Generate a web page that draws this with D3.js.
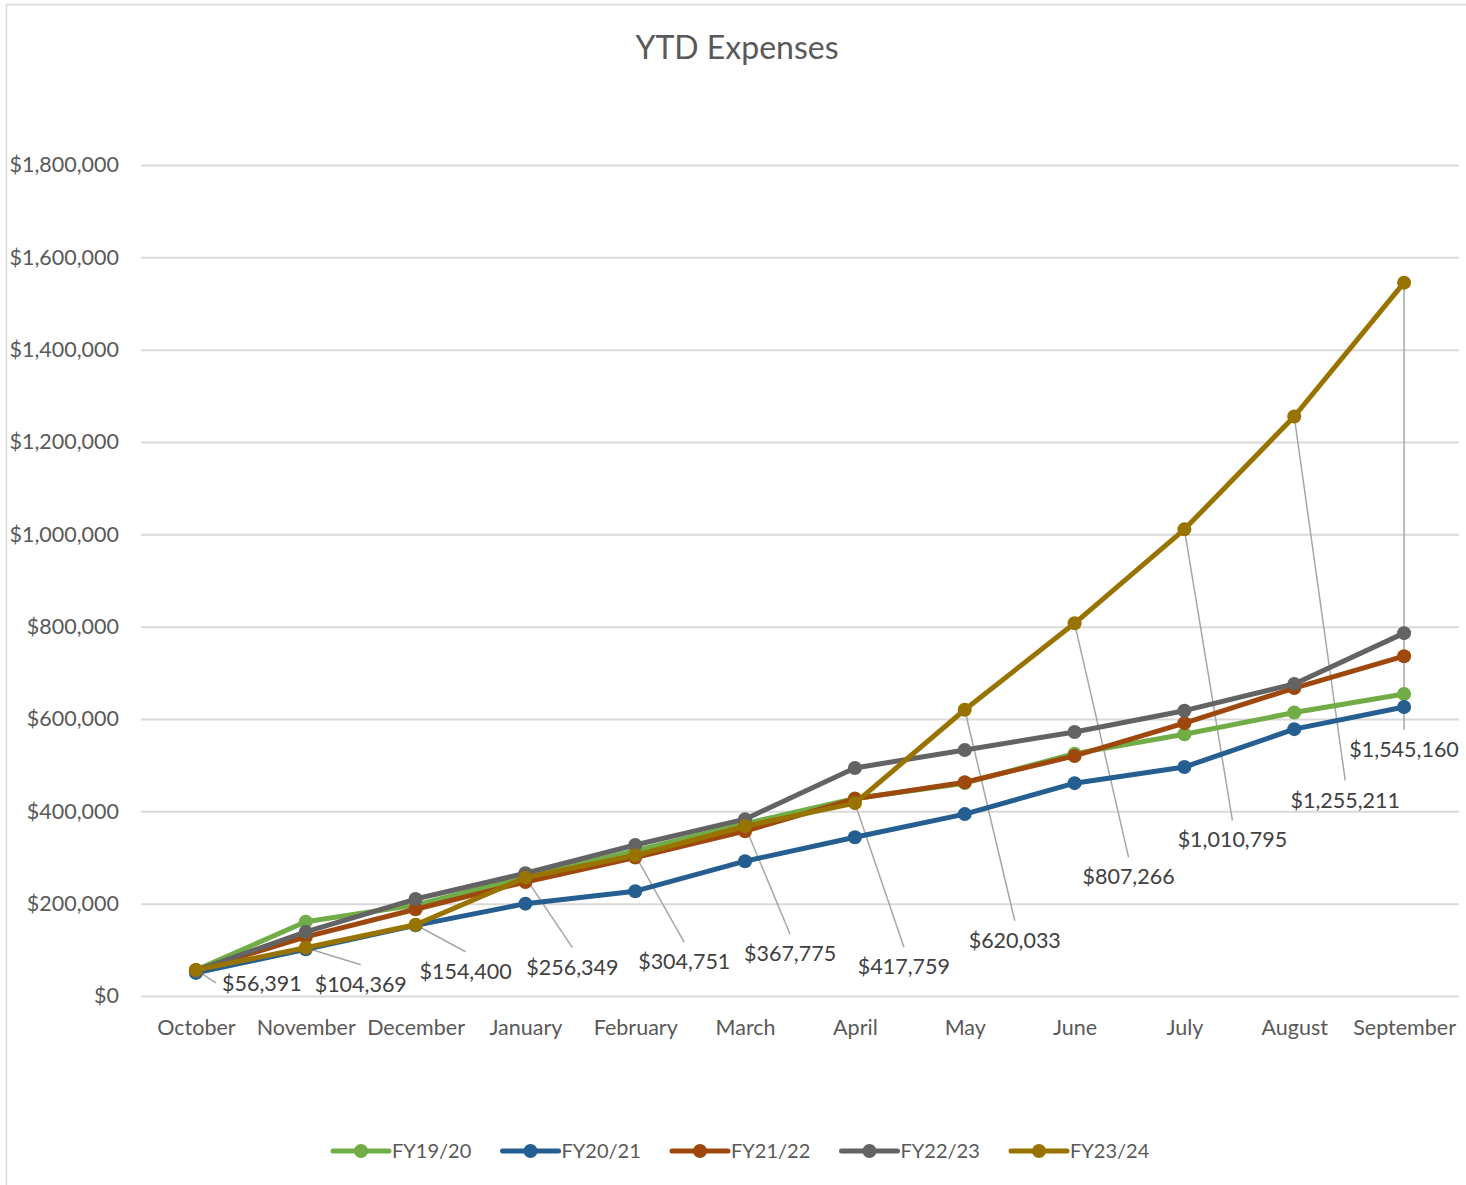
<!DOCTYPE html>
<html>
<head>
<meta charset="utf-8">
<script src="https://cdn.jsdelivr.net/npm/d3@7"></script>
<style>
  body { margin: 0; background: #fff; }
  svg { font-family: Lato, "Noto Sans", sans-serif; }
</style>
</head>
<body>
<div id="chart"></div>
<script>
  // data
  const months = ["October", "November", "December", "January", "February", "March",
    "April", "May", "June", "July", "August", "September"];
  const seriesNames = ["FY19/20", "FY20/21", "FY21/22", "FY22/23", "FY23/24"];
  const fy1920 = [56000, 161000, 197000, 258000, 315000, 373000, 428000, 461000, 525000, 567000, 614000, 654000];
  const fy2021 = [50000, 101000, 153000, 200000, 227000, 292000, 344000, 394000, 461000, 496000, 578000, 626000];
  const fy2122 = [56000, 128000, 188000, 247000, 300000, 357000, 427000, 463000, 520000, 591000, 667000, 736000];
  const fy2223 = [55000, 139000, 210000, 266000, 327000, 383000, 494000, 533000, 572000, 618000, 676000, 786000];
  const fy2324 = [56391, 104369, 154400, 256349, 304751, 367775, 417759, 620033, 807266, 1010795, 1255211, 1545160];
  const yTicks = [0, 200000, 400000, 600000, 800000, 1000000, 1200000, 1400000, 1600000, 1800000];

  const colors = ["#70AD47", "#255E91", "#9E480E", "#636363", "#997300"];
  // where Excel's dragged labels ended up, as pixel offsets from the point
  const labelOffsets = [[66, 13], [55, 36], [50, 46], [47, 89], [49, 106], [45, 127],
    [49, 163], [50, 230], [54, 253], [48, 310], [51, 383], [0, 466]];

  const W = 1466, H = 1185;
  const m = { left: 141, right: 1459, top: 165, bottom: 996 };
  const all = [fy1920, fy2021, fy2122, fy2223, fy2324];
  const series = seriesNames.map((n, i) => ({ name: n, color: colors[i], values: all[i] }));

  const svg = d3.select("#chart").append("svg")
    .attr("width", W).attr("height", H);

  svg.append("rect")
    .attr("x", 6.5).attr("y", 4.5)
    .attr("width", W + 10).attr("height", H + 10)
    .attr("fill", "#fff").attr("stroke", "#D9D9D9").attr("stroke-width", 1.5);

  svg.append("text")
    .attr("x", 737).attr("y", 59)
    .attr("text-anchor", "middle")
    .attr("fill", "#595959")
    .style("font-size", "32px")
    .text("YTD Expenses");

  const x = d3.scalePoint().domain(months).range([m.left, m.right]).padding(0.5);
  const y = d3.scaleLinear().domain([0, 1800000]).range([m.bottom, m.top]);
  const fmt = d3.format("$,.0f");

  // gridlines + y labels
  const yAxis = svg.append("g")
    .attr("transform", `translate(${m.left},0)`)
    .call(d3.axisLeft(y).tickValues(yTicks).tickFormat(fmt)
      .tickSize(-(m.right - m.left)).tickPadding(22));
  yAxis.select(".domain").remove();
  yAxis.selectAll("line").attr("stroke", "#D9D9D9").attr("stroke-width", 2);
  yAxis.selectAll("text").attr("fill", "#595959").style("font-size", "21.5px")
    .attr("font-family", "Lato, sans-serif");

  // x labels
  const xAxis = svg.append("g")
    .attr("transform", `translate(0,${m.bottom})`)
    .call(d3.axisBottom(x).tickSize(0).tickPadding(24));
  xAxis.select(".domain").remove();
  xAxis.selectAll("text").attr("fill", "#595959").style("font-size", "21.5px")
    .attr("font-family", "Lato, sans-serif");

  // leader lines for the FY23/24 labels
  const gold = series[4];
  svg.append("g").selectAll("line")
    .data(gold.values)
    .join("line")
    .attr("x1", (d, i) => x(months[i]))
    .attr("y1", d => y(d))
    .attr("x2", (d, i) => x(months[i]) + labelOffsets[i][0] - (i === 0 ? 46 : 0))
    .attr("y2", (d, i) => y(d) + labelOffsets[i][1] - (i === 0 ? 0 : 19))
    .attr("stroke", "#A6A6A6").attr("stroke-width", 1.5);

  const line = d3.line()
    .x((d, i) => x(months[i]))
    .y(d => y(d));

  series.forEach(s => {
    const g = svg.append("g");
    g.append("path")
      .attr("d", line(s.values))
      .attr("fill", "none")
      .attr("stroke", s.color)
      .attr("stroke-width", 5)
      .attr("stroke-linejoin", "round");
    g.selectAll("circle")
      .data(s.values)
      .join("circle")
      .attr("cx", (d, i) => x(months[i]))
      .attr("cy", d => y(d))
      .attr("r", 7)
      .attr("fill", s.color);
  });

  // FY23/24 data labels
  svg.append("g").selectAll("text")
    .data(gold.values)
    .join("text")
    .attr("x", (d, i) => x(months[i]) + labelOffsets[i][0])
    .attr("y", (d, i) => y(d) + labelOffsets[i][1] + 8)
    .attr("text-anchor", "middle")
    .attr("fill", "#404040")
    .style("font-size", "21.5px")
    .text(d => fmt(d));

  // legend
  const leg = svg.append("g").attr("transform", "translate(333,1151)");
  const item = leg.selectAll("g")
    .data(series)
    .join("g")
    .attr("transform", (d, i) => `translate(${i * 169.5},0)`);
  item.append("line")
    .attr("x1", 0).attr("x2", 56)
    .attr("stroke", d => d.color).attr("stroke-width", 5)
    .attr("stroke-linecap", "round");
  item.append("circle")
    .attr("cx", 28).attr("r", 7)
    .attr("fill", d => d.color);
  item.append("text")
    .attr("x", 59).attr("y", 7)
    .attr("fill", "#595959")
    .style("font-size", "20px")
    .text(d => d.name);
</script>
</body>
</html>
